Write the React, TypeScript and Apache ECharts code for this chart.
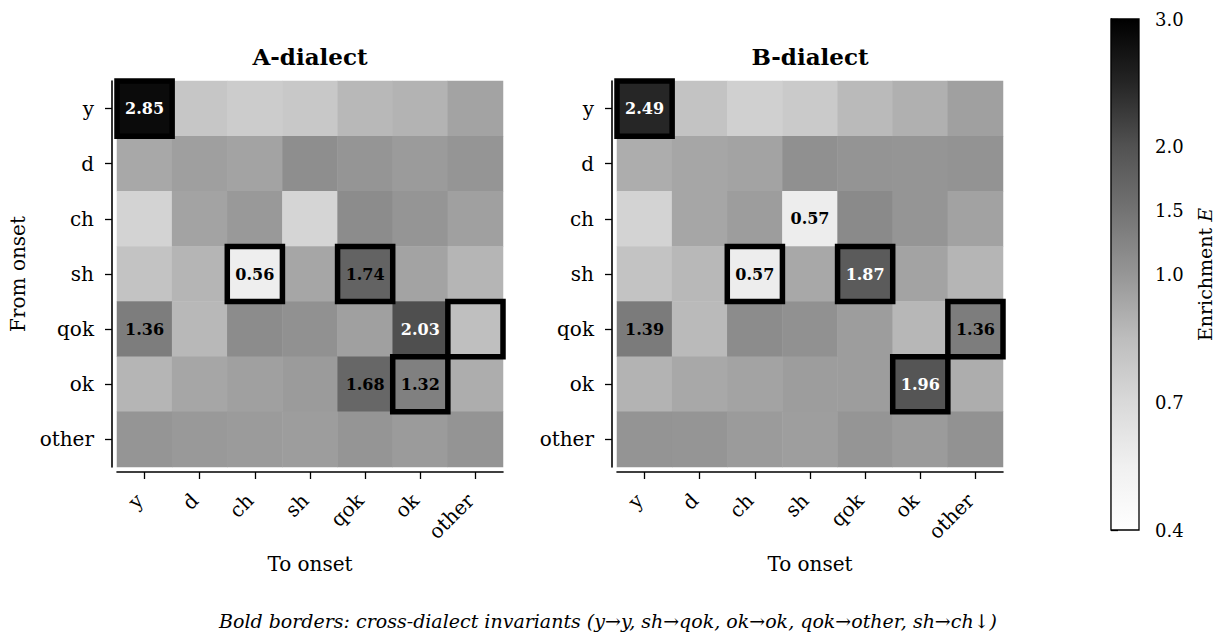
import React, { useEffect, useRef } from 'react';
import * as echarts from 'echarts';

const onsets = ['y', 'd', 'ch', 'sh', 'qok', 'ok', 'other'];

// rows = from onset, cols = to onset
const dialectA = [
  [2.85, 0.80, 0.77, 0.79, 0.87, 0.89, 0.95],
  [0.93, 0.965, 0.95, 1.11, 1.01, 0.98, 1.01],
  [0.73, 0.95, 0.99, 0.72, 1.14, 1.01, 0.96],
  [0.82, 0.88, 0.56, 0.94, 1.74, 0.95, 0.88],
  [1.36, 0.87, 1.14, 1.07, 0.96, 2.03, 0.84],
  [0.88, 0.94, 0.96, 0.98, 1.68, 1.32, 0.91],
  [1.01, 0.99, 0.98, 0.975, 1.01, 0.98, 1.03],
];

const dialectB = [
  [2.49, 0.82, 0.75, 0.78, 0.86, 0.90, 0.96],
  [0.91, 0.94, 0.95, 1.08, 1.03, 1.01, 1.04],
  [0.73, 0.94, 0.975, 0.57, 1.17, 1.02, 0.955],
  [0.82, 0.87, 0.57, 0.93, 1.87, 0.95, 0.88],
  [1.39, 0.86, 1.14, 1.07, 0.975, 0.875, 1.36],
  [0.89, 0.93, 0.95, 0.975, 0.975, 1.96, 0.91],
  [1.03, 1.02, 0.98, 0.97, 1.01, 0.98, 1.06],
];

// [from, to]
const invariants = [
  ['y', 'y'],
  ['sh', 'qok'],
  ['ok', 'ok'],
  ['qok', 'other'],
  ['sh', 'ch'],
];

const cbarTicks = [0.4, 0.7, 1.0, 1.5, 2.0, 3.0];
const greys = ['#ffffff', '#f0f0f0', '#d9d9d9', '#bdbdbd', '#969696', '#737373', '#525252', '#252525', '#000000'];
const vmin = 0.4;
const vcenter = 1.0;
const vmax = 3.0;

const FONT = 'DejaVu Serif';

function norm(v: number) {
  return v < vcenter
    ? 0.5 * (v - vmin) / (vcenter - vmin)
    : 0.5 + 0.5 * (v - vcenter) / (vmax - vcenter);
}
function annotate(v: number) {
  return v >= 1.3 || v <= 0.6;
}

function heatData(m: number[][]) {
  const out: any[] = [];
  m.forEach((row, r) =>
    row.forEach((v, c) => {
      out.push({
        value: [c, r, v, norm(v)],
        label: { color: v >= 1.8 ? '#ffffff' : '#000000' },
      });
    })
  );
  return out;
}

const invData = invariants.map(([from, to]) => [onsets.indexOf(to), onsets.indexOf(from)]);

export default function App() {
  const ref = useRef<HTMLDivElement>(null);
  useEffect(() => {
    if (!ref.current) return;
    const chart = echarts.init(ref.current, null, { renderer: 'svg' });

    const gridA = { left: 117, top: 81, width: 386, height: 386 };
    const gridB = { left: 617, top: 81, width: 386, height: 386 };
    const gridC = { left: 1111, top: 19, width: 28, height: 511 };

    const axisCommon = {
      axisLine: { show: true, lineStyle: { color: '#000', width: 1.6 } },
      axisTick: { show: true, length: 7, alignWithLabel: true, lineStyle: { color: '#000', width: 1.3 } },
      splitLine: { show: false },
    };

    const xCat = (gi: number) => ({
      type: 'category',
      gridIndex: gi,
      data: onsets,
      position: 'bottom',
      offset: 5,
      ...axisCommon,
      axisLabel: {
        rotate: 45,
        margin: 20,
        padding: [0, 7, 0, 0],
        color: '#000',
        fontFamily: FONT,
        fontSize: 20,
      },
      name: 'To onset',
      nameLocation: 'middle',
      nameGap: 82,
      nameTextStyle: { color: '#000', fontFamily: FONT, fontSize: 20 },
    });
    const yCat = (gi: number, withName: boolean) => ({
      type: 'category',
      gridIndex: gi,
      data: onsets,
      inverse: true,
      offset: 5,
      ...axisCommon,
      axisLabel: { margin: 18, color: '#000', fontFamily: FONT, fontSize: 20 },
      name: withName ? 'From onset' : '',
      nameLocation: 'middle',
      nameGap: 84,
      nameTextStyle: { color: '#000', fontFamily: FONT, fontSize: 20 },
    });

    const cbNorm = cbarTicks.map(norm);

    const borderSeries = (gi: number) => ({
      type: 'custom',
      xAxisIndex: gi,
      yAxisIndex: gi,
      data: invData,
      z: 10,
      clip: false,
      renderItem: (params: any, api: any) => {
        const p = api.coord([api.value(0), api.value(1)]);
        const s = api.size([1, 1]);
        return {
          type: 'rect',
          shape: { x: p[0] - s[0] / 2, y: p[1] - s[1] / 2, width: s[0], height: s[1] },
          style: { fill: 'none', stroke: '#000', lineWidth: 5.5 },
        };
      },
    });

    const heatSeries = (gi: number, m: number[][]) => ({
      type: 'heatmap',
      xAxisIndex: gi,
      yAxisIndex: gi,
      data: heatData(m),
      label: {
        show: true,
        fontFamily: FONT,
        fontWeight: 'bold',
        fontSize: 16,
        formatter: (p: any) => (annotate(p.value[2]) ? p.value[2].toFixed(2) : ''),
      },
      emphasis: { disabled: true },
    });

    const option: any = {
      animation: false,
      backgroundColor: '#ffffff',
      grid: [gridA, gridB, gridC],
      xAxis: [
        xCat(0),
        xCat(1),
        { type: 'value', gridIndex: 2, min: 0, max: 1, show: false },
      ],
      yAxis: [
        yCat(0, true),
        yCat(1, false),
        {
          type: 'value',
          gridIndex: 2,
          min: 0,
          max: 1,
          position: 'right',
          axisLine: { show: true, lineStyle: { color: '#000', width: 1.3 } },
          splitLine: { show: false },
          axisTick: {
            show: true,
            length: 7,
            customValues: cbNorm,
            lineStyle: { color: '#000', width: 1.3 },
          },
          axisLabel: {
            show: true,
            customValues: cbNorm,
            margin: 16,
            color: '#000',
            fontFamily: FONT,
            fontSize: 18,
            formatter: (v: number) => {
              let best = 0;
              cbNorm.forEach((n, i) => {
                if (Math.abs(n - v) < Math.abs(cbNorm[best] - v)) best = i;
              });
              return cbarTicks[best].toFixed(1);
            },
          },
          name: '{a|Enrichment }{b|E}',
          nameLocation: 'middle',
          nameGap: 56,
          nameRotate: 90,
          nameTextStyle: {
            color: '#000',
            fontFamily: FONT,
            fontSize: 19,
            rich: {
              a: { fontFamily: FONT, fontSize: 19, color: '#000' },
              b: { fontFamily: FONT, fontSize: 19, fontStyle: 'italic', color: '#000' },
            },
          },
        },
      ],
      visualMap: [
        {
          type: 'continuous',
          show: false,
          min: 0,
          max: 1,
          dimension: 3,
          seriesIndex: [0, 1],
          inRange: { color: greys },
        },
      ],
      series: [
        heatSeries(0, dialectA),
        heatSeries(1, dialectB),
        borderSeries(0),
        borderSeries(1),
        {
          type: 'custom',
          xAxisIndex: 2,
          yAxisIndex: 2,
          data: [[0, 0]],
          renderItem: (params: any, api: any) => {
            const p0 = api.coord([0, 0]);
            const p1 = api.coord([1, 1]);
            return {
              type: 'rect',
              shape: { x: p0[0], y: p1[1], width: p1[0] - p0[0], height: p0[1] - p1[1] },
              style: {
                fill: new echarts.graphic.LinearGradient(
                  0, 0, 0, 1,
                  greys.slice().reverse().map((c, i) => ({ offset: i / (greys.length - 1), color: c }))
                ),
                stroke: '#000',
                lineWidth: 1.3,
              },
            };
          },
        },
      ],
      graphic: [
        {
          type: 'text',
          x: 310,
          y: 56,
          style: { text: 'A-dialect', fontFamily: FONT, fontWeight: 'bold', fontSize: 23, fill: '#000', textAlign: 'center', textVerticalAlign: 'middle' },
        },
        {
          type: 'text',
          x: 810,
          y: 56,
          style: { text: 'B-dialect', fontFamily: FONT, fontWeight: 'bold', fontSize: 23, fill: '#000', textAlign: 'center', textVerticalAlign: 'middle' },
        },
        {
          type: 'text',
          x: 608,
          y: 621,
          style: {
            text: 'Bold borders: cross-dialect invariants (y\u2192y, sh\u2192qok, ok\u2192ok, qok\u2192other, sh\u2192ch\u2193)',
            fontFamily: FONT,
            fontStyle: 'italic',
            fontSize: 19,
            fill: '#000',
            textAlign: 'center',
            textVerticalAlign: 'middle',
          },
        },
      ],
    };

    chart.setOption(option);
    return () => chart.dispose();
  }, []);

  return (
    <div
      ref={ref}
      style={{ position: 'fixed', left: 0, top: 0, width: 1215, height: 632, background: '#fff' }}
    />
  );
}
